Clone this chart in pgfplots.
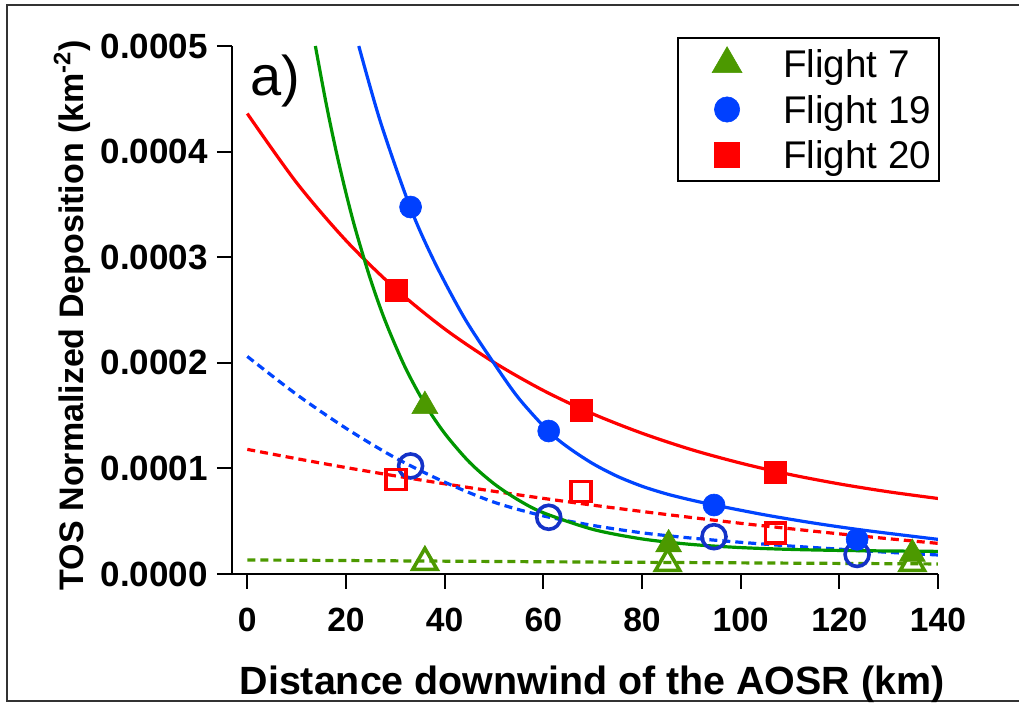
\documentclass[border=0pt]{standalone}
\usepackage{fontspec}
\setmainfont{Liberation Sans}
\usepackage{pgfplots}
\pgfplotsset{compat=1.18}
\definecolor{gmark}{RGB}{76,153,0}
\definecolor{gline}{RGB}{0,150,0}
\definecolor{bmark}{RGB}{0,64,255}
\definecolor{bopen}{RGB}{20,50,200}
\definecolor{bline}{RGB}{0,68,255}
\definecolor{rred}{RGB}{255,0,0}
\begin{document}
\begin{tikzpicture}
\useasboundingbox (-116pt,-65pt) rectangle (393.5pt,287pt);
\draw[line width=1pt, black!80] (394pt,284.5pt) -- (-112.5pt,284.5pt) -- (-112.5pt,-63.5pt) -- (394pt,-63.5pt);
\begin{axis}[
  scale only axis, width=353pt, height=264pt,
  at={(0pt,0pt)}, anchor=south west,
  xmin=-3.1, xmax=140, ymin=0, ymax=0.0005,
  axis lines*=left,
  axis line style={line width=1pt, black},
  tick align=outside, major tick length=7.5pt,
  tick style={line width=1pt, black},
  xtick={0,20,40,60,80,100,120,140},
  xticklabels={0,20,40,60,80,100,120,140},
  ytick={0,0.0001,0.0002,0.0003,0.0004,0.0005},
  yticklabels={0.0000,0.0001,0.0002,0.0003,0.0004,0.0005},
  scaled y ticks=false,
  xticklabel style={inner sep=0pt, yshift=-9.5pt, font=\fontsize{16.8}{20}\selectfont\bfseries},
  yticklabel style={inner sep=0pt, xshift=-4.5pt, font=\fontsize{17.5}{20}\selectfont\bfseries},
  xlabel={Distance downwind of the AOSR (km)},
  ylabel={TOS Normalized Deposition (km\textsuperscript{-2})},
  xlabel style={at={(axis description cs:0.51,-0.229)}, anchor=base, font=\fontsize{19.7}{22}\selectfont\bfseries},
  ylabel style={at={(axis description cs:-0.211,0.4905)}, anchor=base, font=\fontsize{17}{20}\selectfont\bfseries},
  legend style={at={(rel axis cs:1.003,1.017)}, anchor=north east,
    draw=black, line width=1pt, fill=white,
    inner xsep=4pt, inner ysep=4.1pt, row sep=4.95pt, column sep=8.5pt,
    font=\fontsize{19.3}{22}\selectfont,
    nodes={inner sep=0pt},
    /tikz/every even column/.append style={nodes={text height=15.8pt, text depth=2pt}}},
  legend cell align=left,
  legend image code/.code={\path[draw=none,fill=none] (0pt,-8pt) rectangle (40pt,8pt);
    \draw[#1,/tikz/every mark/.append style={scale=1.15}] plot coordinates {(20.5pt,0pt)};},
]
% fitted curves
\addplot[forget plot, rred, line width=1.6pt, smooth] coordinates {
(0,0.000436) (10,0.0003705) (20,0.0003158) (30,0.0002702) (40,0.0002321)
(50,0.0002004) (60,0.0001738) (70,0.0001517) (80,0.0001333) (90,0.0001178)
(100,0.0001050) (110,0.0000942) (120,0.0000853) (130,0.0000778) (140,0.0000715)};
\addplot[forget plot, rred, line width=1.6pt, smooth, dash pattern=on 4pt off 2.5pt] coordinates {
(0,0.000118) (10,0.0001092) (20,0.0001008) (30,0.0000929) (40,0.0000854)
(50,0.0000783) (60,0.0000716) (70,0.0000652) (80,0.0000592) (90,0.0000535)
(100,0.0000480) (110,0.0000429) (120,0.0000380) (130,0.0000334) (140,0.0000290)};
\addplot[forget plot, bline, line width=1.6pt, smooth] coordinates {
(22.6,0.0005) (27,0.000428) (33,0.0003475) (38,0.000295) (44,0.0002425)
(50,0.0001995) (55,0.0001665) (61,0.0001354) (65,0.0001200) (70,0.0001046)
(75,0.0000925) (80,0.0000831) (85,0.0000758) (90,0.0000700) (95,0.0000650)
(105,0.0000559) (115,0.0000481) (125,0.0000414) (140,0.0000328)};
\addplot[forget plot, bline, line width=1.6pt, smooth, dash pattern=on 4pt off 2.5pt] coordinates {
(0,0.000206) (10,0.000170) (20,0.000138) (30,0.000110) (40,0.000087)
(50,0.000068) (60,0.000055) (70,0.000046) (80,0.000039) (90,0.000034)
(100,0.000030) (110,0.0000265) (120,0.0000235) (130,0.0000205) (140,0.000018)};
\addplot[forget plot, gline, line width=1.6pt, smooth] coordinates {
(13.8,0.0005) (16,0.0004451) (18,0.0004006) (20,0.0003608) (22,0.0003251)
(25,0.0002786) (28,0.0002391) (32,0.0001957) (36,0.0001610) (40,0.0001332)
(45,0.0001060) (50,0.0000855) (55,0.0000699) (60,0.0000580) (70,0.0000423)
(80,0.0000332) (90,0.0000280) (100,0.0000250) (110,0.0000233) (120,0.0000223)
(130,0.0000218) (140,0.0000214)};
\addplot[forget plot, gmark, line width=1.6pt, smooth, dash pattern=on 4pt off 2.5pt] coordinates {
(0,0.0000133) (35,0.0000123) (70,0.0000113) (105,0.0000104) (140,0.0000095)};
% open markers
\addplot[forget plot, only marks, mark=triangle, mark size=7pt, gmark, line width=1.8pt] coordinates {
(36,0.000011) (85.2,0.000010) (134.8,0.000010)};
\addplot[forget plot, only marks, mark=o, mark size=6pt, bopen, line width=1.8pt] coordinates {
(33.1,0.0001023) (61.1,0.0000537) (94.6,0.0000353) (123.6,0.0000185)};
\addplot[forget plot, only marks, mark=square, mark size=5pt, rred, line width=1.8pt] coordinates {
(30.2,0.0000893) (67.7,0.0000780) (107.1,0.0000390)};
% filled markers
\addplot[only marks, mark=triangle*, mark size=7.5pt, draw=gmark, fill=gmark, line width=0.3pt] coordinates {
(36,0.000159) (85.4,0.000028) (134.8,0.000019)};
\addlegendentry{Flight 7}
\addplot[only marks, mark=*, mark size=5.5pt, draw=bmark, fill=bmark, line width=0.3pt] coordinates {
(33.1,0.0003475) (61.1,0.0001354) (94.6,0.0000653) (123.6,0.0000328)};
\addlegendentry{Flight 19}
\addplot[only marks, mark=square*, mark size=5.5pt, draw=rred, fill=rred, line width=0.3pt] coordinates {
(30.2,0.000269) (67.7,0.0001553) (107.1,0.0000965)};
\addlegendentry{Flight 20}
\node[anchor=base west, inner sep=0pt, font=\fontsize{28}{30}\selectfont] at (rel axis cs:0.0255,0.907) {a)};
\end{axis}
\end{tikzpicture}
\end{document}
